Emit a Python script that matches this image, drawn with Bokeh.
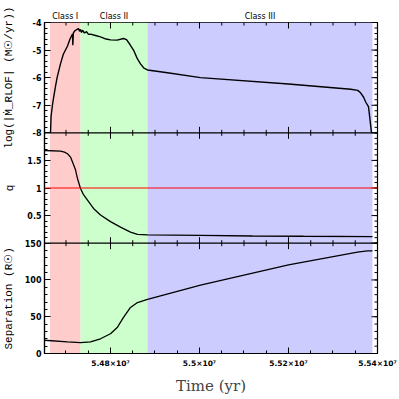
import numpy as np
from bokeh.plotting import figure
from bokeh.models import (LinearAxis, FixedTicker, Span, Range1d,
                          CustomJSTickFormatter)
from bokeh.embed import file_html
from bokeh.resources import INLINE

# ---------------- data ----------------
t_mdot = [54665200, 54666500, 54669500, 54671900, 54676000, 54680000, 54687600,
          54694000, 54703400, 54709000, 54714600, 54715400, 54716500, 54720000,
          54725800, 54728100, 54730350, 54732590, 54734840, 54737080, 54741580,
          54746070, 54750570, 54755060, 54766300, 54777530, 54790000, 54800000,
          54815000, 54829200, 54836000, 54843000, 54851700, 54860000, 54867400,
          54875000, 54883100, 54928100, 55002200, 55200000, 55340000, 55355500,
          55362000, 55368500, 55374000, 55379700, 55383000, 55386500]
log_mdot = [-8.0, -7.4, -7.0, -6.75, -6.35, -6.0, -5.5,
            -5.15, -4.85, -4.6, -4.42, -4.82, -4.38, -4.3,
            -4.24, -4.22, -4.32, -4.25, -4.36, -4.28, -4.38,
            -4.33, -4.43, -4.42, -4.47, -4.52, -4.6, -4.63,
            -4.64, -4.58, -4.62, -4.78, -5.0, -5.3, -5.5,
            -5.65, -5.72, -5.82, -6.0, -6.23, -6.42, -6.46,
            -6.55, -6.7, -6.9, -7.05, -7.5, -8.0]

t_q = [54651700, 54687650, 54696640, 54703380, 54710120, 54714610, 54721350,
       54725850, 54732590, 54739330, 54748320, 54761800, 54777530, 54800000,
       54822470, 54844940, 54860670, 54883140, 55002230, 55119070, 55233670,
       55388700]
q_vals = [1.68, 1.67, 1.65, 1.62, 1.56, 1.47, 1.33,
          1.17, 0.99, 0.88, 0.78, 0.63, 0.51, 0.39,
          0.29, 0.20, 0.16, 0.15, 0.14, 0.13, 0.125,
          0.12]

t_sep = [54651700, 54703380, 54732590, 54755060, 54777530, 54800000, 54815730,
         54829210, 54844940, 54860670, 54883140, 55002230, 55200000, 55355000,
         55377480, 55388700]
sep_vals = [18.0, 15.7, 14.7, 15.7, 20.0, 26.8, 35.8,
            49.0, 62.6, 69.3, 73.7, 93.0, 120.6, 137.7,
            139.4, 139.6]

q_crit = 1.0

class_names = ["Class I", "Class II", "Class III"]
class_edges = [54664000, 54732600, 54883100, 55388700]
class_colors = ["#ffcccc", "#ccffcc", "#ccccff"]

x_limits = (54651700, 55400000)
x_ticks = [54800000, 55000000, 55200000, 55400000]
x_tick_labels = ["5.48×10⁷", "5.5×10⁷", "5.52×10⁷", "5.54×10⁷"]
x_minor_step = 50000

mdot_lim = (-8.0, -4.0)
mdot_ticks = [-8, -7, -6, -5, -4]
mdot_tick_labels = ["-8", "-7", "-6", "-5", "-4"]
mdot_minor_step = 0.2
mdot_title = "log(|Ṁ_RLOF| (M☉/yr))"

q_lim = (0.0, 2.0)
q_ticks = [0.5, 1.0, 1.5]
q_tick_labels = ["0.5", "1", "1.5"]
q_minor_step = 0.1
q_title = "q"

sep_lim = (0.0, 150.0)
sep_ticks = [0, 50, 100, 150]
sep_tick_labels = ["0", "50", "100", "150"]
sep_minor_step = 10.0
sep_title = "Separation (R☉)"

# panel index counted from the bottom
K_SEP, K_Q, K_MDOT = 0, 1, 2
N_PANELS = 3


def to_panel(v, lim, k):
    return list(k + (np.asarray(v, float) - lim[0]) / (lim[1] - lim[0]))


def panel_range(lim, k):
    span = lim[1] - lim[0]
    return Range1d(lim[0] - k * span, lim[1] + (N_PANELS - 1 - k) * span)


def minor(lim, step):
    n = int(round((lim[1] - lim[0]) / step))
    return [lim[0] + i * step for i in range(n + 1)]


# ---------------- figure ----------------
p = figure(width=399, height=397, output_backend="svg", toolbar_location=None,
           x_range=Range1d(*x_limits), y_range=Range1d(0, N_PANELS),
           x_axis_location=None, y_axis_location=None,
           min_border_left=44, min_border_right=22, min_border_top=22,
           min_border_bottom=40)
p.extra_y_ranges = {"mdot": panel_range(mdot_lim, K_MDOT),
                    "q": panel_range(q_lim, K_Q),
                    "sep": panel_range(sep_lim, K_SEP)}
p.outline_line_color = "black"
p.outline_line_width = 1.2
p.grid.visible = False

# y ticks (in panel coordinates)
y_major = (to_panel(sep_ticks, sep_lim, K_SEP) + to_panel(q_ticks, q_lim, K_Q)
           + to_panel(mdot_ticks, mdot_lim, K_MDOT))
y_labels = sep_tick_labels + q_tick_labels + mdot_tick_labels
y_minor = (to_panel(minor(sep_lim, sep_minor_step), sep_lim, K_SEP)
           + to_panel(minor(q_lim, q_minor_step), q_lim, K_Q)
           + to_panel(minor(mdot_lim, mdot_minor_step), mdot_lim, K_MDOT))

x_minor = [float(v) for v in np.arange(x_ticks[0] - 4 * x_minor_step, x_ticks[-1] + 1, x_minor_step)]

lookup = """
let k = 0, d = Infinity;
for (let i = 0; i < pos.length; i++) { const e = Math.abs(pos[i] - tick); if (e < d) { d = e; k = i; } }
return labs[k];
"""
y_fmt = CustomJSTickFormatter(args=dict(pos=y_major, labs=y_labels), code=lookup)
x_fmt = CustomJSTickFormatter(args=dict(pos=x_ticks, labs=x_tick_labels), code=lookup)


def style(ax):
    ax.major_tick_in = 6
    ax.major_tick_out = 0
    ax.minor_tick_in = 3
    ax.minor_tick_out = 0
    ax.axis_line_color = "black"
    ax.axis_line_width = 1.2
    ax.major_tick_line_color = "black"
    ax.minor_tick_line_color = "black"
    ax.major_label_text_font = "DejaVu Sans"
    ax.major_label_text_font_size = "8px"
    ax.major_label_text_font_style = "bold"
    ax.major_label_text_color = "black"
    ax.major_label_standoff = 3


def bare(ax):
    ax.major_tick_in = 0
    ax.major_tick_out = 0
    ax.minor_tick_in = 0
    ax.minor_tick_out = 0
    ax.axis_line_color = None
    ax.major_label_text_color = "black"


left = LinearAxis(ticker=FixedTicker(ticks=y_major, minor_ticks=y_minor), formatter=y_fmt)
style(left)
p.add_layout(left, "left")

# panel titles: outer left axis whose tick labels sit at the panel centres
title_pos = [K_SEP + 0.5, K_Q + 0.5, K_MDOT + 0.5]
title_txt = [sep_title, q_title, mdot_title]
titles = LinearAxis(ticker=FixedTicker(ticks=title_pos, minor_ticks=[]),
                    formatter=CustomJSTickFormatter(args=dict(pos=title_pos, labs=title_txt),
                                                    code=lookup))
bare(titles)
titles.major_label_orientation = "parallel"
titles.major_label_text_font = "Liberation Mono"
titles.major_label_text_font_size = "11px"
titles.major_label_standoff = 6
p.add_layout(titles, "left")

below = LinearAxis(ticker=FixedTicker(ticks=x_ticks, minor_ticks=x_minor), formatter=x_fmt,
                   axis_label="Time (yr)")
style(below)
below.major_label_text_font_size = "7.5px"
below.major_label_standoff = 5
below.axis_label_text_font = "DejaVu Serif"
below.axis_label_text_font_size = "15px"
below.axis_label_text_font_style = "normal"
below.axis_label_standoff = 6
p.add_layout(below, "below")

# class names as labels above the frame
class_mid = [(a + b) / 2 for a, b in zip(class_edges[:-1], class_edges[1:])]
above = LinearAxis(ticker=FixedTicker(ticks=class_mid, minor_ticks=[]),
                   formatter=CustomJSTickFormatter(args=dict(pos=class_mid, labs=class_names),
                                                   code=lookup))
bare(above)
above.major_label_text_font = "DejaVu Sans"
above.major_label_text_font_size = "8px"
above.major_label_standoff = 2
p.add_layout(above, "above")

# class backgrounds
p.quad(left=class_edges[:-1], right=class_edges[1:], bottom=0, top=N_PANELS,
       fill_color=class_colors, line_color=None)

# mirrored ticks on the right and top edges (half of each dash is clipped by the frame)
p.scatter(x=[x_limits[1]] * len(y_major), y=y_major, marker="dash", size=12,
          line_color="black", line_width=1)
p.scatter(x=[x_limits[1]] * len(y_minor), y=y_minor, marker="dash", size=6,
          line_color="black", line_width=1)
p.scatter(x=x_ticks, y=[N_PANELS] * len(x_ticks), marker="dash", angle=np.pi / 2,
          size=12, line_color="black", line_width=1)
p.scatter(x=x_minor, y=[N_PANELS] * len(x_minor), marker="dash", angle=np.pi / 2,
          size=6, line_color="black", line_width=1)

# panel boundaries with ticks on both sides
for k in range(1, N_PANELS):
    p.add_layout(Span(location=k, dimension="width", line_color="black", line_width=1.2))
    p.scatter(x=x_ticks, y=[k] * len(x_ticks), marker="dash", angle=np.pi / 2,
              size=12, line_color="black", line_width=1)
    p.scatter(x=x_minor, y=[k] * len(x_minor), marker="dash", angle=np.pi / 2,
              size=6, line_color="black", line_width=1)

# curves
p.line(t_mdot, log_mdot, y_range_name="mdot", line_color="black", line_width=1.4)
p.add_layout(Span(location=q_crit, dimension="width", y_range_name="q",
                  line_color="red", line_width=1))
p.line(t_q, q_vals, y_range_name="q", line_color="black", line_width=1.3)
p.line(t_sep, sep_vals, y_range_name="sep", line_color="black", line_width=1.3)

open("out.html", "w").write(file_html(p, INLINE))
